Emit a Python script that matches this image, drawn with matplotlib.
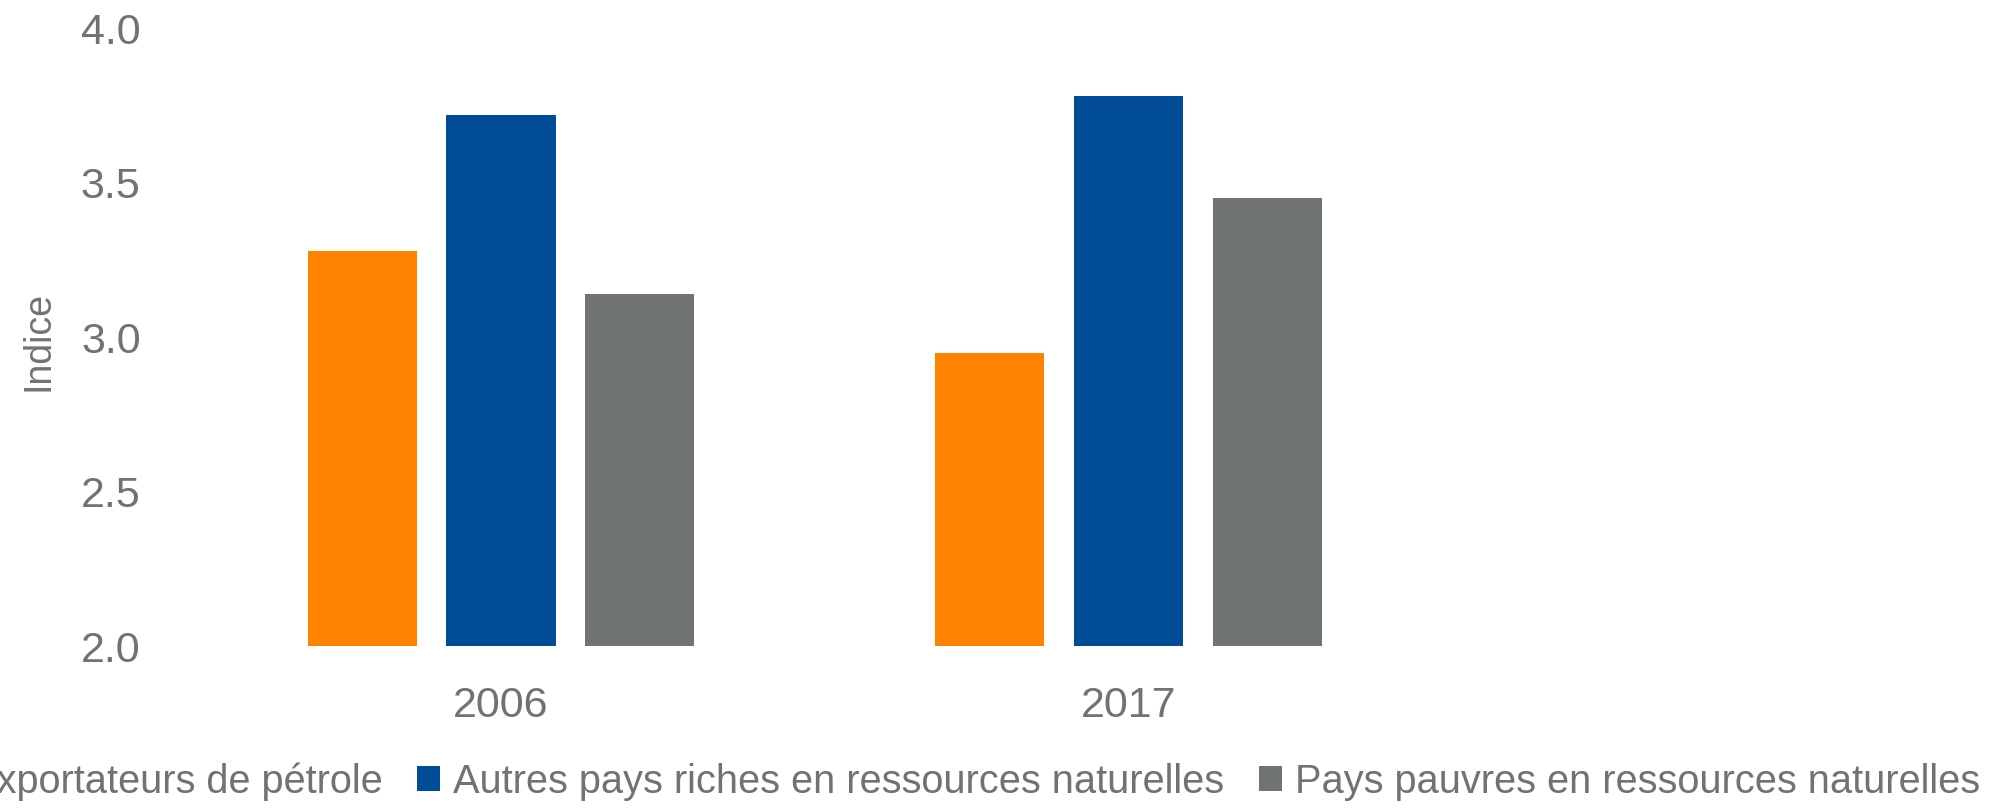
import numpy as np
import matplotlib
matplotlib.use("Agg")
import matplotlib.pyplot as plt

# data
years = ["2006", "2017"]
series_names = [
    "Pays exportateurs de pétrole",
    "Autres pays riches en ressources naturelles",
    "Pays pauvres en ressources naturelles",
]
oil_exporters = [3.28, 2.95]
other_rich = [3.72, 3.78]
resource_poor = [3.14, 3.45]
y_ticks = [2.0, 2.5, 3.0, 3.5, 4.0]

colors = ["#FF8200", "#004C97", "#6F7371"]
text_color = "#6F7371"

plt.rcParams['font.family'] = ['Liberation Sans', 'DejaVu Sans']

W, H = 1995, 811
fig = plt.figure(figsize=(W / 100, H / 100), dpi=100)

# axes placed in pixel terms, then converted to figure fractions
ax_left, ax_right = 160, 1995
ax_top, ax_bottom = 28.5, 646
ax = fig.add_axes([ax_left / W, (H - ax_bottom) / H,
                   (ax_right - ax_left) / W, (ax_bottom - ax_top) / H])

x = np.arange(len(years))
step = 0.221
width = 0.174
for i, (vals, name) in enumerate(zip([oil_exporters, other_rich, resource_poor], series_names)):
    ax.bar(x + (i - 1) * step, np.array(vals) - 2.0, width, bottom=2.0,
           color=colors[i], label=name)

# category 0 at px 501, category 1 at px 1128.5
px_per_unit = 627.5
ax.set_xlim((ax_left - 501) / px_per_unit, (ax_right - 501) / px_per_unit)
ax.set_ylim(2.0, 4.0)
ax.set_yticks(y_ticks)
ax.set_yticklabels([f"{v:.1f}" for v in y_ticks])
ax.set_xticks(x)
ax.set_xticklabels(years)

ax.tick_params(axis='y', length=0, pad=14, labelsize=31, labelcolor=text_color)
ax.tick_params(axis='x', length=0, pad=29, labelsize=31, labelcolor=text_color)
for s in ax.spines.values():
    s.set_visible(False)

ax.set_ylabel("Indice", fontsize=27, color=text_color, va='center')
ax.yaxis.set_label_coords((38 - ax_left) / (ax_right - ax_left), 0.494)

leg = fig.legend(loc='lower right', bbox_to_anchor=(2006 / W, -0.019), ncol=3,
                 frameon=False, fontsize=28.6, handlelength=0.57, handleheight=0.57,
                 handletextpad=0.33, columnspacing=0.88, borderpad=0.15,
                 labelcolor=text_color)

fig.savefig("out.png", dpi=100)
